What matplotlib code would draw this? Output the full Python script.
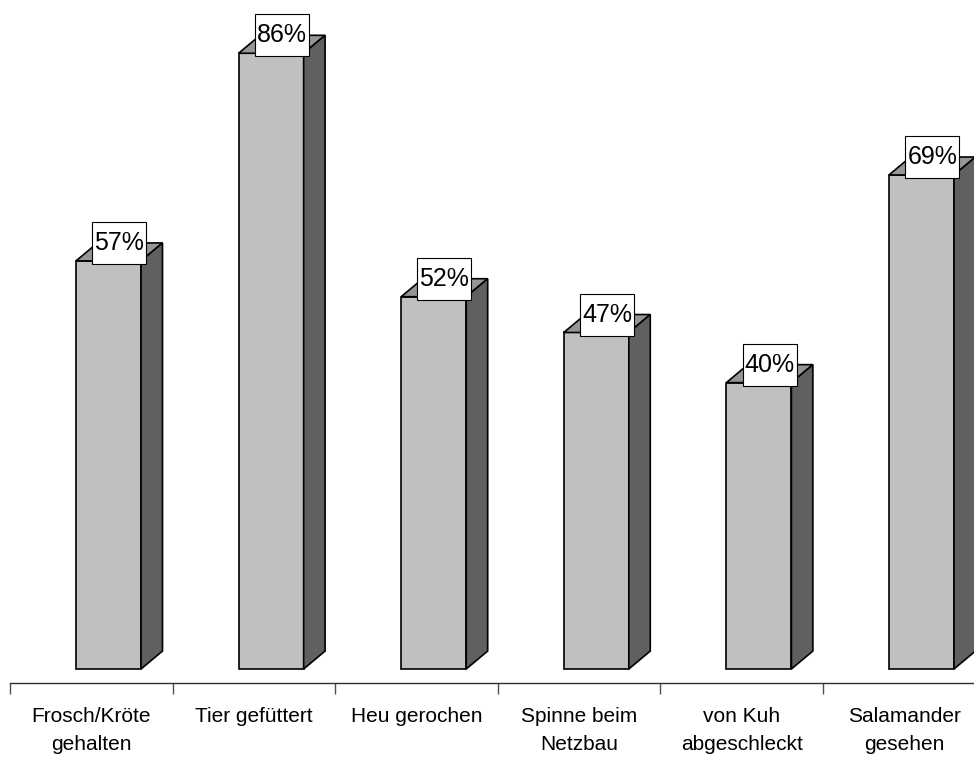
import numpy as np
import matplotlib.pyplot as plt
from matplotlib.patches import Polygon, Rectangle

plt.rcParams['font.family'] = ['Liberation Sans', 'DejaVu Sans']

categories = ['Frosch/Kröte\ngehalten', 'Tier gefüttert', 'Heu gerochen',
              'Spinne beim\nNetzbau', 'von Kuh\nabgeschleckt', 'Salamander\ngesehen']
values = [57, 86, 52, 47, 40, 69]

front_color = '#c0c0c0'
top_color = '#969696'
side_color = '#606060'

# bar geometry: x in category units, y in percent
offset = 0.406   # gap from category start to front face
width = 0.40
dx = 0.132       # depth of the fake 3d extrusion
dy = 2.51
box_w = 0.332    # size of the white value boxes
box_h = 5.87
xmin, xmax = -0.0615, 5.929

fig = plt.figure(figsize=(9.74, 7.6), dpi=100)
ax = fig.add_axes([0, 0, 1, 1])
ax.set_xlim(xmin, xmax)
ax.set_ylim(-12.71, 93.44)

for i, v in enumerate(values):
    x0 = i + offset
    x1 = x0 + width
    ax.add_patch(Rectangle((x0, 0), width, v, fc=front_color, ec='black', lw=1.2))
    ax.add_patch(Polygon([(x0, v), (x1, v), (x1 + dx, v + dy), (x0 + dx, v + dy)],
                         closed=True, fc=top_color, ec='black', lw=1.2))
    ax.add_patch(Polygon([(x1, 0), (x1 + dx, dy), (x1 + dx, v + dy), (x1, v)],
                         closed=True, fc=side_color, ec='black', lw=1.2))
    cx = x0 + width / 2 + dx / 2
    cy = v + dy
    ax.add_patch(Rectangle((cx - box_w / 2, cy - box_h / 2), box_w, box_h,
                           fc='white', ec='black', lw=0.8, zorder=3))
    ax.text(cx, cy, f'{v}%', ha='center', va='center', fontsize=18, zorder=4)

for s in ['left', 'right', 'top']:
    ax.spines[s].set_visible(False)
ax.spines['bottom'].set_position(('data', -1.96))
ax.spines['bottom'].set_bounds(0, xmax)
ax.spines['bottom'].set_color('#303030')
ax.spines['bottom'].set_linewidth(1.0)

ax.set_yticks([])
ax.set_xticks(np.arange(len(values)))
ax.set_xticklabels([])
ax.tick_params(axis='x', which='major', direction='out', length=8, width=1.0, color='#505050')
ax.set_xticks(np.arange(len(values)) + 0.5, minor=True)
ax.set_xticklabels(categories, minor=True, fontsize=15)
ax.tick_params(axis='x', which='minor', length=0, pad=17)
for t in ax.get_xticklabels(minor=True):
    t.set_linespacing(1.65)

plt.savefig('out.png', dpi=100, facecolor='white', bbox_inches=None)
